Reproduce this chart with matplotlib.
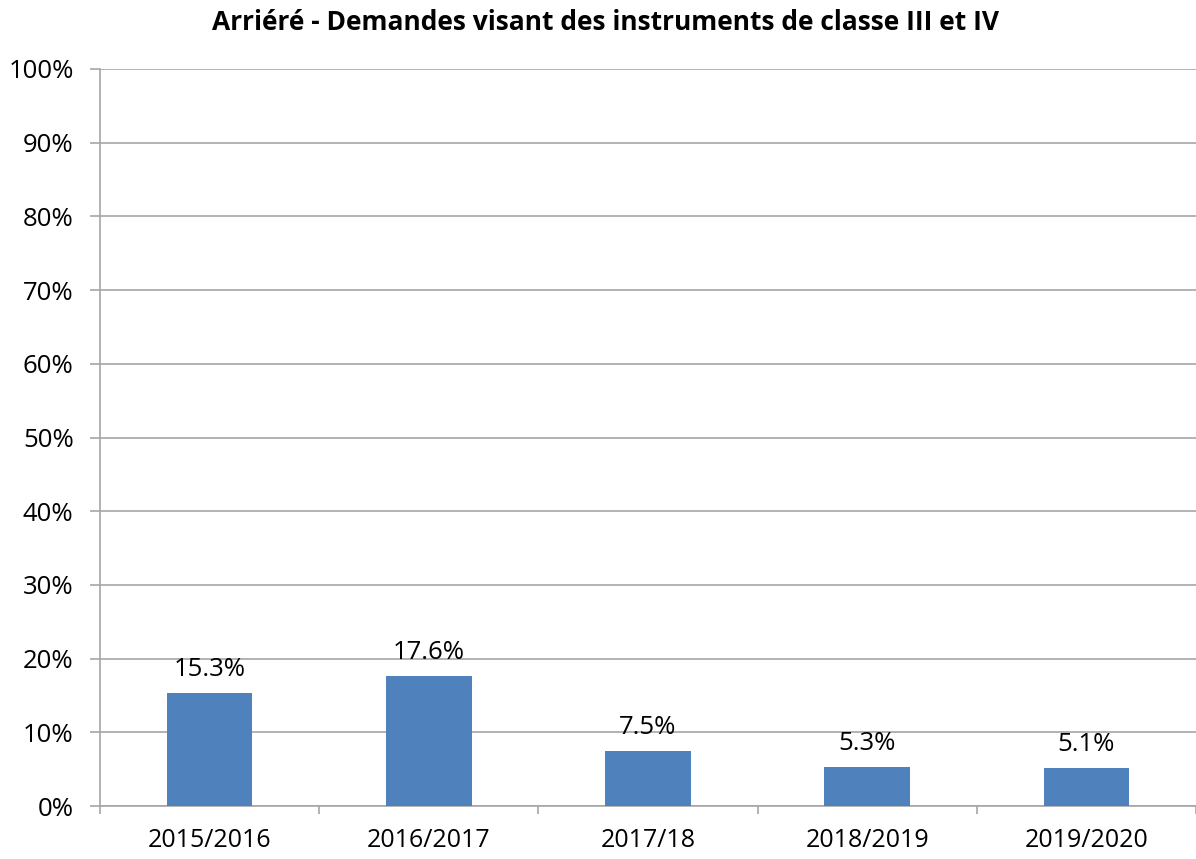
import matplotlib
matplotlib.use("Agg")
import matplotlib.pyplot as plt
from matplotlib.ticker import FixedLocator, PercentFormatter

categories = ["2015/2016", "2016/2017", "2017/18", "2018/2019", "2019/2020"]
values = [15.3, 17.6, 7.5, 5.3, 5.1]
labels = ["15.3%", "17.6%", "7.5%", "5.3%", "5.1%"]
title = "Arriéré - Demandes visant des instruments de classe III et IV"

plt.rcParams['font.family'] = ['Open Sans', 'DejaVu Sans']

fig = plt.figure(figsize=(11.96, 8.59), dpi=100)
ax = fig.add_axes([100/1196, 1 - 806/859, 1 - 100/1196, (806 - 69)/859])

x = list(range(len(categories)))
bars = ax.bar(x, values, width=0.39, color="#4F81BD", zorder=3)
for xi, v, lab in zip(x, values, labels):
    ax.annotate(lab, (xi, v), xytext=(0, 8), textcoords="offset points",
                ha="center", va="bottom", fontsize=18.5, color="#000000")

ax.set_ylim(0, 100)
ax.set_xlim(-0.5, len(categories) - 0.5)
ax.set_yticks(range(0, 101, 10))
ax.yaxis.set_major_formatter(PercentFormatter(decimals=0))
ax.grid(axis="y", color="#A6A6A6", linewidth=1.2, zorder=0)
ax.set_xticks(x)
ax.set_xticklabels(categories, fontsize=18)
ax.tick_params(axis="x", length=0, pad=16)
ax.xaxis.set_minor_locator(FixedLocator([i - 0.5 for i in range(len(categories) + 1)]))
ax.tick_params(axis="x", which="minor", length=6, color="#A6A6A6", width=1.2)
ax.tick_params(axis="y", length=7, color="#A6A6A6", width=1.2, labelsize=18.5, pad=12)
for s in ["top", "right"]:
    ax.spines[s].set_visible(False)
ax.spines["left"].set_color("#A6A6A6")
ax.spines["left"].set_linewidth(1.2)
ax.spines["bottom"].set_color("#A6A6A6")
ax.spines["bottom"].set_linewidth(1.2)

fig.text(606/1196, 1 - 22/859, title, ha="center", va="center", fontsize=19, fontweight="bold")

fig.savefig("out.png", dpi=100)
